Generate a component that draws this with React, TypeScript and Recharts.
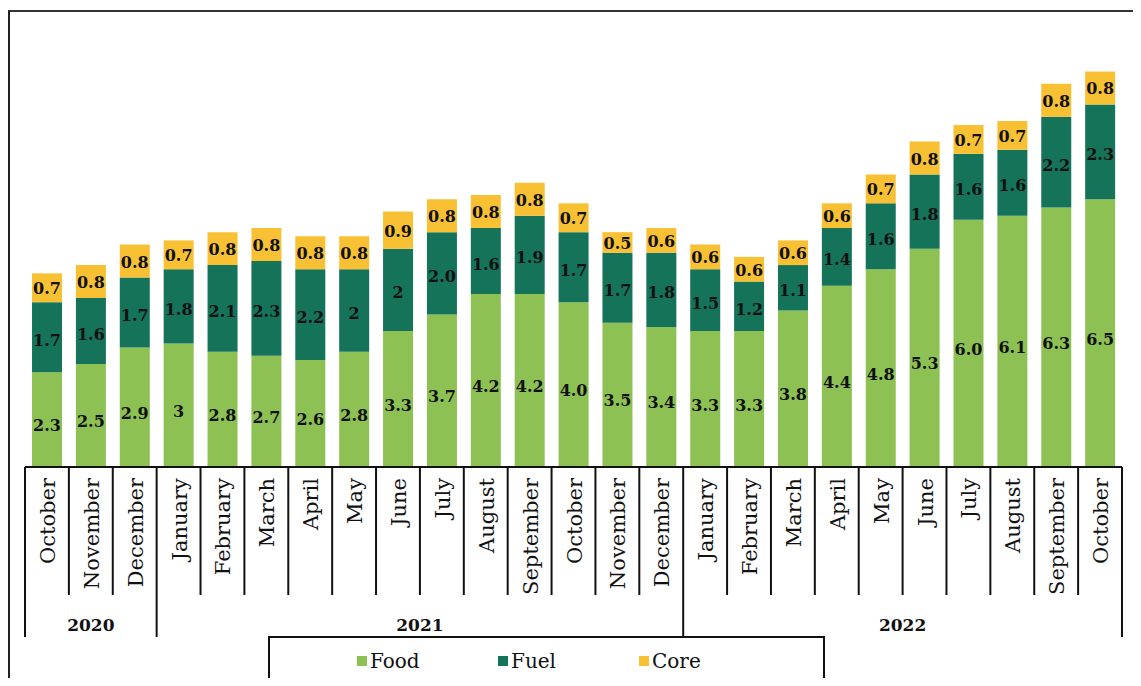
import { Bar, BarChart, LabelList, XAxis, YAxis } from "recharts";

const months = [
  "October", "November", "December",
  "January", "February", "March", "April", "May", "June", "July", "August", "September", "October", "November", "December",
  "January", "February", "March", "April", "May", "June", "July", "August", "September", "October",
];
const years = [
  "2020", "2020", "2020",
  "2021", "2021", "2021", "2021", "2021", "2021", "2021", "2021", "2021", "2021", "2021", "2021",
  "2022", "2022", "2022", "2022", "2022", "2022", "2022", "2022", "2022", "2022",
];
const food = ["2.3", "2.5", "2.9", "3", "2.8", "2.7", "2.6", "2.8", "3.3", "3.7", "4.2", "4.2", "4.0", "3.5", "3.4", "3.3", "3.3", "3.8", "4.4", "4.8", "5.3", "6.0", "6.1", "6.3", "6.5"];
const fuel = ["1.7", "1.6", "1.7", "1.8", "2.1", "2.3", "2.2", "2", "2", "2.0", "1.6", "1.9", "1.7", "1.7", "1.8", "1.5", "1.2", "1.1", "1.4", "1.6", "1.8", "1.6", "1.6", "2.2", "2.3"];
const core = ["0.7", "0.8", "0.8", "0.7", "0.8", "0.8", "0.8", "0.8", "0.9", "0.8", "0.8", "0.8", "0.7", "0.5", "0.6", "0.6", "0.6", "0.6", "0.6", "0.7", "0.8", "0.7", "0.7", "0.8", "0.8"];

const FOOD = "#8DC153";
const FUEL = "#15735A";
const CORE = "#F8C133";
const SERIF = "'DejaVu Serif', Georgia, serif";

const data = months.map((m, i) => ({
  id: `${m} ${years[i]}`,
  month: m,
  year: years[i],
  food: parseFloat(food[i]),
  fuel: parseFloat(fuel[i]),
  core: parseFloat(core[i]),
  foodLabel: food[i],
  fuelLabel: fuel[i],
  coreLabel: core[i],
}));

const BAND = (1141 - 25 - 19) / months.length;

function MonthTick(props: any) {
  const { x, y, payload } = props;
  const i = payload.index;
  const half = payload.offset || BAND / 2;
  const first = i === 0 || years[i] !== years[i - 1];
  const last = i === months.length - 1;
  let yearLabel = null;
  if (first) {
    let n = 0;
    while (years[i + n] === years[i]) n++;
    yearLabel = (
      <text x={x - half + n * half} y={y + 164} textAnchor="middle" fontFamily={SERIF} fontWeight="bold" fontSize={17} fill="#111">
        {years[i]}
      </text>
    );
  }
  return (
    <g>
      <line x1={x - half} x2={x - half} y1={y} y2={y + (first ? 170 : 128)} stroke="#111" strokeWidth={2} />
      {last && <line x1={x + half} x2={x + half} y1={y} y2={y + 170} stroke="#111" strokeWidth={2} />}
      <text
        transform={`translate(${x + 8}, ${y + 11}) rotate(-90)`}
        textAnchor="end"
        fontFamily={SERIF}
        fontSize={21}
        fill="#111"
      >
        {payload.value}
      </text>
      {yearLabel}
    </g>
  );
}

const segLabel = (dy: number) => (p: any) => (
  <text
    x={p.x + p.width / 2}
    y={p.y + p.height / 2 + dy}
    textAnchor="middle"
    dominantBaseline="central"
    fontFamily={SERIF}
    fontWeight="bold"
    fontSize={16}
    fill="#111"
  >
    {p.value}
  </text>
);

const legendItems = [
  { name: "Food", color: FOOD },
  { name: "Fuel", color: FUEL },
  { name: "Core", color: CORE },
];

export default function App() {
  return (
    <div style={{ margin: -8, width: 1141, height: 686, position: "relative", overflow: "hidden", background: "#fff" }}>
      <div
        style={{
          position: "absolute",
          left: 8,
          top: 10,
          width: 1150,
          height: 700,
          borderLeft: "2px solid #222",
          borderTop: "2px solid #333",
        }}
      />
      <div style={{ position: "absolute", left: 0, top: 0 }}>
        <BarChart
          width={1141}
          height={686}
          data={data}
          margin={{ top: 55, right: 19, left: 25, bottom: 0 }}
          barCategoryGap="16%"
        >
          <XAxis
            dataKey="month"
            height={219}
            tickLine={false}
            tickSize={0}
            tickMargin={0}
            interval={0}
            axisLine={{ stroke: "#111", strokeWidth: 2 }}
            tick={<MonthTick />}
          />
          <YAxis hide domain={[0, 10]} />
          <Bar dataKey="food" name="Food" stackId="a" fill={FOOD} isAnimationActive={false}>
            <LabelList dataKey="foodLabel" content={segLabel(6)} />
          </Bar>
          <Bar dataKey="fuel" name="Fuel" stackId="a" fill={FUEL} isAnimationActive={false}>
            <LabelList dataKey="fuelLabel" content={segLabel(3)} />
          </Bar>
          <Bar dataKey="core" name="Core" stackId="a" fill={CORE} isAnimationActive={false}>
            <LabelList dataKey="coreLabel" content={segLabel(1)} />
          </Bar>
        </BarChart>
      </div>
      <div
        style={{
          position: "absolute",
          left: 268,
          top: 636,
          width: 557,
          height: 50,
          border: "2px solid #111",
          boxSizing: "border-box",
          background: "#fff",
          display: "flex",
          alignItems: "center",
          paddingLeft: 87,
          fontFamily: SERIF,
          fontSize: 20,
          color: "#111",
        }}
      >
        {legendItems.map((it) => (
          <div key={it.name} style={{ display: "flex", alignItems: "center", width: 141 }}>
            <span style={{ width: 10, height: 10, background: it.color, display: "inline-block", marginRight: 3 }} />
            {it.name}
          </div>
        ))}
      </div>
    </div>
  );
}
